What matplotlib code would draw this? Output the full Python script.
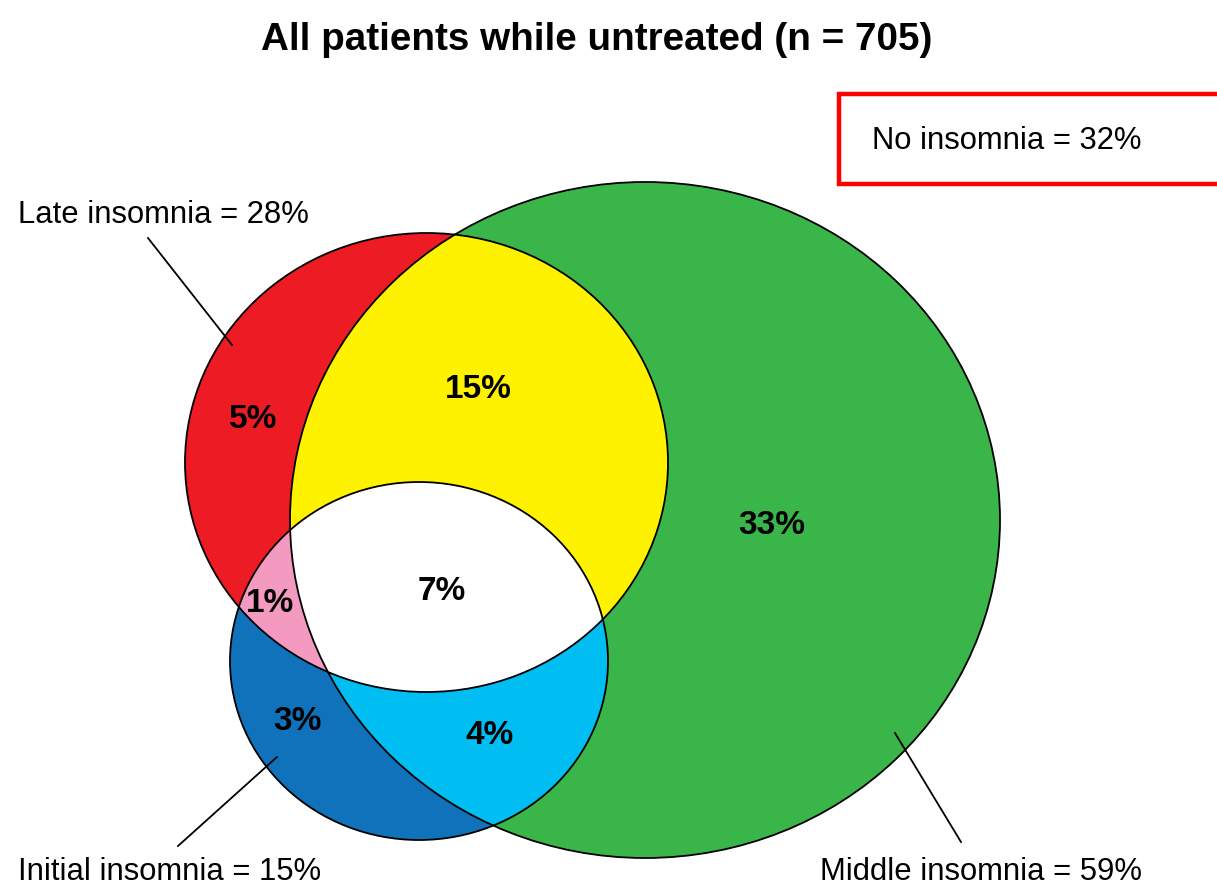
import numpy as np
import matplotlib
matplotlib.use("Agg")
import matplotlib.pyplot as plt
from matplotlib.patches import Ellipse, Polygon

# ---------------------------------------------------------------------------
# Data
# ---------------------------------------------------------------------------
title = "All patients while untreated (n = 705)"
set_names = ["Late insomnia", "Middle insomnia", "Initial insomnia"]
set_pct = [28, 59, 15]
no_insomnia_pct = 32

# region order: late only, late+middle, middle only, late+initial,
#               all three, initial only, initial+middle
region_pct = [5, 15, 33, 1, 7, 3, 4]

# ---------------------------------------------------------------------------
# Layout (image pixel coordinates, y downwards)
# ---------------------------------------------------------------------------
# ellipse: centre x, centre y, half width, half height
shapes = {
    "late": (426.5, 462.5, 241.5, 229.5),
    "middle": (645.0, 520.0, 355.0, 338.0),
    "initial": (419.0, 661.0, 189.0, 179.0),
}
region_xy = [(253, 420), (478, 390), (772, 525), (270, 603),
             (442, 592), (297, 722), (490, 735)]

colors = {
    "late": "#ed1c24",
    "middle": "#39b54a",
    "initial": "#1072ba",
    "late_middle": "#fff200",
    "late_initial": "#f49ac1",
    "initial_middle": "#00bdf2",
    "all": "#ffffff",
}

FONT = ["Liberation Sans Narrow", "Liberation Sans", "DejaVu Sans"]
LABEL_SIZE = 22.3


def ellipse_poly(key, n=720):
    cx, cy, a, b = shapes[key]
    t = np.linspace(0, 2 * np.pi, n, endpoint=False)
    return np.column_stack([cx + a * np.cos(t), cy + b * np.sin(t)])


def clip_convex(subject, clipper):
    """Sutherland-Hodgman: intersect polygon `subject` with convex `clipper` (CCW)."""
    out = list(subject)
    m = len(clipper)
    for i in range(m):
        a = clipper[i]
        b = clipper[(i + 1) % m]
        inp = out
        out = []
        if not inp:
            break

        def inside(p):
            return (b[0] - a[0]) * (p[1] - a[1]) - (b[1] - a[1]) * (p[0] - a[0]) >= 0

        def cross_pt(p, q):
            d1 = np.array(p) - np.array(q)
            d2 = np.array(a) - np.array(b)
            den = d1[0] * d2[1] - d1[1] * d2[0]
            t = ((p[0] - a[0]) * d2[1] - (p[1] - a[1]) * d2[0]) / den
            return (p[0] - t * d1[0], p[1] - t * d1[1])

        s = inp[-1]
        for e in inp:
            if inside(e):
                if not inside(s):
                    out.append(cross_pt(s, e))
                out.append(e)
            elif inside(s):
                out.append(cross_pt(s, e))
            s = e
    return np.array(out)


fig = plt.figure(figsize=(12.17, 8.85), dpi=100)
ax = fig.add_axes([0, 0, 1, 1])
ax.set_xlim(0, 1217)
ax.set_ylim(885, 0)
ax.axis("off")

late = ellipse_poly("late")
middle = ellipse_poly("middle")
initial = ellipse_poly("initial")

# single sets
for key, poly in [("middle", middle), ("late", late), ("initial", initial)]:
    ax.add_patch(Polygon(poly, closed=True, fc=colors[key], ec="none", zorder=1))

# pairwise and triple overlaps
lm = clip_convex(late, middle)
li = clip_convex(late, initial)
im = clip_convex(initial, middle)
lmi = clip_convex(lm, initial)
for poly, key in [(lm, "late_middle"), (li, "late_initial"),
                  (im, "initial_middle"), (lmi, "all")]:
    ax.add_patch(Polygon(poly, closed=True, fc=colors[key], ec="none", zorder=2))

# outlines
for key in shapes:
    cx, cy, a, b = shapes[key]
    ax.add_patch(Ellipse((cx, cy), 2 * a, 2 * b, fill=False, ec="black",
                         lw=1.3, zorder=3))

# region percentages
for (x, y), v in zip(region_xy, region_pct):
    ax.text(x, y, f"{v}%", ha="center", va="center", fontsize=24,
            fontweight="bold", family=FONT, zorder=4)

# set labels with leader lines
ax.text(18, 223, f"{set_names[0]} = {set_pct[0]}%", ha="left", va="baseline",
        fontsize=LABEL_SIZE, family=FONT)
ax.plot([148, 232], [238, 345], color="black", lw=1.3, zorder=4)

ax.text(820, 880, f"{set_names[1]} = {set_pct[1]}%", ha="left", va="baseline",
        fontsize=LABEL_SIZE, family=FONT)
ax.plot([895, 961], [733, 842], color="black", lw=1.3, zorder=4)

ax.text(18, 880, f"{set_names[2]} = {set_pct[2]}%", ha="left", va="baseline",
        fontsize=LABEL_SIZE, family=FONT)
ax.plot([178, 277], [846, 757], color="black", lw=1.3, zorder=4)

# no insomnia box (runs off the right edge)
ax.plot([1240, 839, 839, 1240], [94, 94, 184, 184], color="#ff0000", lw=3.2,
        solid_joinstyle="miter", zorder=4)
ax.text(872, 149, f"No insomnia = {no_insomnia_pct}%", ha="left",
        va="baseline", fontsize=LABEL_SIZE, family=FONT)

ax.text(597, 50, title, ha="center", va="baseline", fontsize=27.8,
        fontweight="bold", family=FONT)

fig.savefig("out.png", dpi=100, facecolor="white")
